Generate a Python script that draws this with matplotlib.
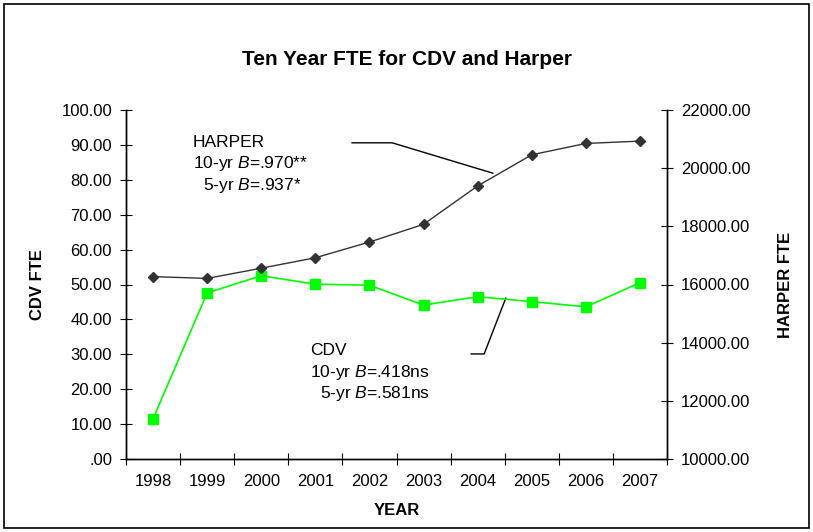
import numpy as np
import matplotlib
matplotlib.use("Agg")
import matplotlib.pyplot as plt
from matplotlib.patches import Rectangle

plt.rcParams['font.family'] = ['Liberation Sans', 'DejaVu Sans']
plt.rcParams['mathtext.fontset'] = 'custom'
plt.rcParams['mathtext.rm'] = 'Liberation Sans'
plt.rcParams['mathtext.it'] = 'Liberation Sans:italic'

years = [1998, 1999, 2000, 2001, 2002, 2003, 2004, 2005, 2006, 2007]
cdv_fte = [11.5, 47.6, 52.5, 50.1, 49.8, 44.1, 46.5, 45.1, 43.6, 50.5]
harper_fte = [16270, 16210, 16560, 16920, 17460, 18070, 19390, 20460, 20850, 20930]

left_ticks = np.arange(0, 101, 10)
right_ticks = np.arange(10000, 22001, 2000)

fig = plt.figure(figsize=(8.13, 5.32), dpi=100)
ax = fig.add_axes([126 / 813, 1 - 459 / 532, (667 - 126) / 813, (459 - 110) / 532])
ax2 = ax.twinx()

# outer frame
fig.patches.append(Rectangle((4 / 813, 4 / 532), 805 / 813, 524 / 532,
                             transform=fig.transFigure, fill=False,
                             edgecolor='black', linewidth=1.2))

ax.plot(years, cdv_fte, color='#00ff00', marker='s', markersize=7,
        linewidth=1.2, zorder=3)
ax2.plot(years, harper_fte, color='#333333', marker='D', markersize=5.5,
         linewidth=1.0, zorder=3)

ax.set_xlim(1997.5, 2007.5)
ax.set_ylim(0, 100)
ax2.set_ylim(10000, 22000)

ax.set_xticks(np.arange(1997.5, 2008, 1))
ax.set_xticklabels([])
ax.set_xticks(years, minor=True)
ax.set_xticklabels([str(y) for y in years], minor=True)
ax.tick_params(axis='x', which='minor', length=0, pad=11, labelsize=12)
ax.tick_params(axis='x', which='major', direction='inout', length=8)

ax.set_yticks(left_ticks)
ax.set_yticklabels(['.00' if v == 0 else '%.2f' % v for v in left_ticks])
ax.tick_params(axis='y', direction='inout', length=8, labelsize=12, pad=6)

ax2.set_yticks(right_ticks)
ax2.set_yticklabels(['%.2f' % v for v in right_ticks])
ax2.tick_params(axis='y', direction='inout', length=8, labelsize=12, pad=6)

for a in (ax, ax2):
    a.spines['top'].set_visible(False)
    for s in a.spines.values():
        s.set_linewidth(1.0)

ax.set_xlabel('YEAR', fontsize=12, fontweight='bold', labelpad=10)
ax.set_ylabel('CDV FTE', fontsize=12, fontweight='bold', labelpad=12)
ax2.set_ylabel('HARPER FTE', fontsize=12, fontweight='bold', labelpad=20)

fig.text(0.5, 1 - 60 / 532, 'Ten Year FTE for CDV and Harper',
         ha='center', va='center', fontsize=15, fontweight='bold')

# annotations
ax.text(1998.74, 90.8, 'HARPER', fontsize=12.5, va='center')
ax.text(1998.74, 84.6, r'10-yr $\it{B}$=.970**', fontsize=12.5, va='center')
ax.text(1998.92, 78.3, r'5-yr $\it{B}$=.937*', fontsize=12.5, va='center')
ax.plot([2001.68, 2002.42, 2004.28], [90.6, 90.6, 81.9],
        color='black', linewidth=1.0)

ax.text(2000.9, 31.2, 'CDV', fontsize=12.5, va='center')
ax.text(2000.9, 24.9, r'10-yr $\it{B}$=.418ns', fontsize=12.5, va='center')
ax.text(2001.09, 18.9, r'5-yr $\it{B}$=.581ns', fontsize=12.5, va='center')
ax.plot([2003.88, 2004.12, 2004.52], [30.1, 30.1, 46.1],
        color='black', linewidth=1.0)

fig.savefig('out.png', dpi=100)
